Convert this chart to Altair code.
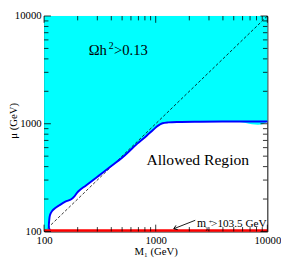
import altair as alt
import pandas as pd

# boundary of the excluded (cyan) region, in drawing order
curve_m1 = [115, 110.6, 111, 113, 118, 126, 137, 155, 175, 187, 202, 239, 310, 420, 530, 680, 830, 950, 1050, 1150, 1300, 1600, 2500, 5000, 10000]
curve_mu = [100, 108, 125, 142, 155, 165, 175, 189, 199, 212, 235, 269, 330, 420, 510, 650, 775, 880, 960, 1010, 1030, 1040, 1045, 1048, 1050]
region_top_m1 = [10000]
region_top_mu = [10000]
diag_vals = [100, 10000]
lep_m1 = [100, 10000]
lep_mu = [102, 102]
arrow_m1 = [2260, 1452]
arrow_mu = [127, 106]
major_ticks = [100, 1000, 10000]
minor_ticks = [200, 300, 400, 500, 600, 700, 800, 900, 2000, 3000, 4000, 5000, 6000, 7000, 8000, 9000]
axis_values = [100, 1000, 10000]

W, H = 229, 221
FONT = "Times New Roman, Liberation Serif, serif"

xs = alt.Scale(type="log", domain=[100, 10000], nice=False)
ys = alt.Scale(type="log", domain=[100, 10000], nice=False)
x_axis = alt.Axis(values=axis_values, title="M\u2081 (GeV)", labelPadding=3, titlePadding=1,
                  format="d", labelFlush=False)
y_axis = alt.Axis(values=axis_values, title="\u03bc (GeV)", labelPadding=3, format="d", labelFlush=False,
                  titleX=-31, titleY=107, titleAngle=270, titleAlign="center", titleBaseline="middle")

area_df = pd.DataFrame({"m1": curve_m1 + region_top_m1, "mu": curve_mu + region_top_mu})
curve_df = pd.DataFrame({"m1": curve_m1, "mu": curve_mu, "i": list(range(len(curve_m1)))})
diag_df = pd.DataFrame({"m1": diag_vals, "mu": diag_vals})
lep_df = pd.DataFrame({"m1": lep_m1, "mu": lep_mu})
arrow_df = pd.DataFrame({"m1": arrow_m1, "mu": arrow_mu})

area = alt.Chart(area_df).mark_area(orient="horizontal", color="#00FFFF", fill="#00FFFF",
                                    opacity=1, interpolate="catmull-rom", clip=True).encode(
    y=alt.Y("mu:Q", scale=ys, axis=y_axis),
    x=alt.X("m1:Q", scale=xs, axis=x_axis),
    x2=alt.X2(datum=100),
)

diag = alt.Chart(diag_df).mark_line(color="black", strokeWidth=0.8, strokeDash=[3, 2]).encode(
    x=alt.X("m1:Q", scale=xs), y=alt.Y("mu:Q", scale=ys))

curve = alt.Chart(curve_df).mark_line(color="#0000FF", strokeWidth=2, interpolate="catmull-rom").encode(
    x=alt.X("m1:Q", scale=xs), y=alt.Y("mu:Q", scale=ys), order="i:Q")

lep = alt.Chart(lep_df).mark_line(color="#FF0000", strokeWidth=2.5).encode(
    x=alt.X("m1:Q", scale=xs), y=alt.Y("mu:Q", scale=ys))

arrow = alt.Chart(arrow_df).mark_line(color="black", strokeWidth=0.9).encode(
    x=alt.X("m1:Q", scale=xs), y=alt.Y("mu:Q", scale=ys))
arrow_head = alt.Chart(arrow_df.iloc[[1]]).mark_point(
    shape="M1,-0.7L0,0L1,0.7", filled=False, color="black", strokeWidth=0.9, size=45, angle=338, opacity=1
).encode(x=alt.X("m1:Q", scale=xs), y=alt.Y("mu:Q", scale=ys))

tick_layers = []
for vals, L in [(major_ticks, 7), (minor_ticks, 4.5)]:
    tdf = pd.DataFrame({"m1": vals, "mu": vals})
    base = alt.Chart(tdf).mark_rule(color="black", strokeWidth=0.8)
    tick_layers.append(base.encode(x=alt.X("m1:Q", scale=xs), y=alt.value(H), y2=alt.value(H - L)))
    tick_layers.append(base.encode(x=alt.X("m1:Q", scale=xs), y=alt.value(0), y2=alt.value(L)))
    tick_layers.append(base.encode(y=alt.Y("mu:Q", scale=ys), x=alt.value(0), x2=alt.value(L)))
    tick_layers.append(base.encode(y=alt.Y("mu:Q", scale=ys), x=alt.value(W), x2=alt.value(W - L)))

def label(text, m1, mu, size, dx=0, dy=0):
    return alt.Chart(pd.DataFrame({"m1": [m1], "mu": [mu]})).mark_text(
        text=text, font=FONT, fontSize=size, align="left", baseline="alphabetic",
        color="black", dx=dx, dy=dy
    ).encode(x=alt.X("m1:Q", scale=xs), y=alt.Y("mu:Q", scale=ys))

texts = [
    label("\u03a9h", 251, 4300, 15),
    label("2", 251, 4300, 10, dx=20.5, dy=-7),
    label(">0.13", 251, 4300, 15, dx=26),
    label("Allowed Region", 826, 415, 16),
    label("m", 2340, 111, 12),
    label("\u03c7", 2340, 111, 7, dx=8.8, dy=3),
    label("+", 2340, 111, 6, dx=12, dy=-2.5),
    label(">103.5 GeV", 2340, 111, 11.5, dx=14.5),
]

chart = alt.layer(area, diag, curve, lep, *tick_layers, arrow, arrow_head, *texts).properties(
    width=W, height=H,
    autosize=alt.AutoSizeParams(type="none"),
    padding={"left": 37, "top": 5, "right": 14, "bottom": 24},
).configure_view(stroke="black", strokeWidth=1, fill="white").configure_axis(
    labelFont=FONT, titleFont=FONT, labelFontSize=11, titleFontSize=11,
    titleFontWeight="normal", grid=False, ticks=False, domain=False,
    labelColor="black", titleColor="black",
)

chart.save("out.html", embed_options={"renderer": "svg", "actions": False})
